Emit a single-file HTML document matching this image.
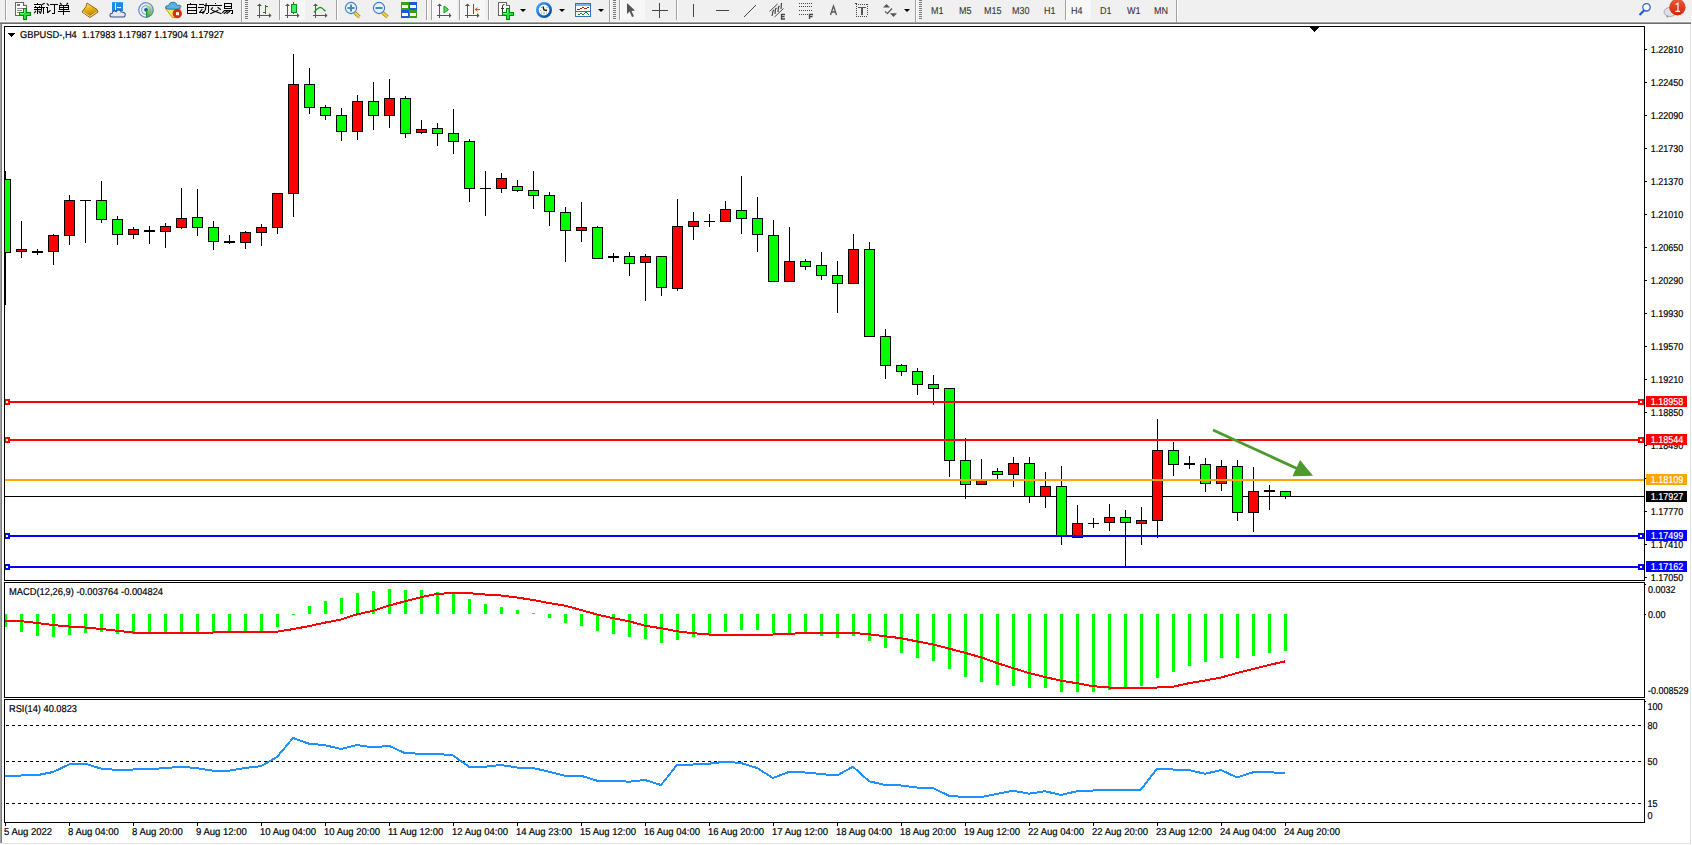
<!DOCTYPE html>
<html><head><meta charset="utf-8"><style>
html,body{margin:0;padding:0;width:1692px;height:845px;overflow:hidden;background:#fff}
svg{display:block;font-family:"Liberation Sans", sans-serif;text-rendering:geometricPrecision}
</style></head><body>
<svg width="1692" height="845" viewBox="0 0 1692 845" shape-rendering="crispEdges">
<rect x="0" y="24" width="1692" height="821" fill="#ffffff"/>
<rect x="0" y="24" width="1" height="819" fill="#a0a0a0"/>
<rect x="1" y="24" width="1" height="819" fill="#808080"/>
<rect x="1690" y="24" width="1" height="820" fill="#e3e3e3"/>
<rect x="0" y="843" width="1691" height="1" fill="#e3e3e3"/>
<defs><clipPath id="cm"><rect x="5" y="27" width="1639" height="553"/></clipPath><clipPath id="cmacd"><rect x="5" y="583" width="1639" height="114"/></clipPath><clipPath id="crsi"><rect x="5" y="700" width="1639" height="122"/></clipPath></defs>
<rect x="4" y="26" width="1641" height="1" fill="#000"/>
<rect x="4" y="580" width="1641" height="1" fill="#000"/>
<rect x="4" y="26" width="1" height="555" fill="#000"/>
<rect x="1644" y="26" width="1" height="555" fill="#000"/>
<rect x="4" y="582" width="1641" height="1" fill="#000"/>
<rect x="4" y="697" width="1641" height="1" fill="#000"/>
<rect x="4" y="582" width="1" height="116" fill="#000"/>
<rect x="1644" y="582" width="1" height="116" fill="#000"/>
<rect x="4" y="699" width="1641" height="1" fill="#000"/>
<rect x="4" y="822" width="1641" height="1" fill="#000"/>
<rect x="4" y="699" width="1" height="124" fill="#000"/>
<rect x="1644" y="699" width="1" height="124" fill="#000"/>
<path d="M1310,27h9v1h-9z M1311,28h7v1h-7z M1312,29h5v1h-5z M1313,30h3v1h-3z M1314,31h1v1h-1z" fill="#000"/>
<g clip-path="url(#cm)">
<rect x="5" y="496" width="1639" height="1" fill="#000"/>
<rect x="5" y="171" width="1" height="134" fill="#000"/>
<rect x="0" y="179" width="11" height="74" fill="#000"/>
<rect x="1" y="180" width="9" height="72" fill="#00ff00"/>
<rect x="21" y="221" width="1" height="37" fill="#000"/>
<rect x="16" y="249" width="11" height="3" fill="#000"/>
<rect x="17" y="250" width="9" height="1" fill="#ff0000"/>
<rect x="37" y="249" width="1" height="6" fill="#000"/>
<rect x="32" y="251" width="11" height="2" fill="#000"/>
<rect x="53" y="234" width="1" height="31" fill="#000"/>
<rect x="48" y="235" width="11" height="17" fill="#000"/>
<rect x="49" y="236" width="9" height="15" fill="#ff0000"/>
<rect x="69" y="195" width="1" height="50" fill="#000"/>
<rect x="64" y="200" width="11" height="36" fill="#000"/>
<rect x="65" y="201" width="9" height="34" fill="#ff0000"/>
<rect x="85" y="200" width="1" height="43" fill="#000"/>
<rect x="80" y="200" width="11" height="1" fill="#000"/>
<rect x="101" y="181" width="1" height="42" fill="#000"/>
<rect x="96" y="200" width="11" height="20" fill="#000"/>
<rect x="97" y="201" width="9" height="18" fill="#00ff00"/>
<rect x="117" y="216" width="1" height="29" fill="#000"/>
<rect x="112" y="219" width="11" height="16" fill="#000"/>
<rect x="113" y="220" width="9" height="14" fill="#00ff00"/>
<rect x="133" y="227" width="1" height="12" fill="#000"/>
<rect x="128" y="229" width="11" height="6" fill="#000"/>
<rect x="129" y="230" width="9" height="4" fill="#ff0000"/>
<rect x="149" y="226" width="1" height="18" fill="#000"/>
<rect x="144" y="230" width="11" height="2" fill="#000"/>
<rect x="165" y="223" width="1" height="25" fill="#000"/>
<rect x="160" y="226" width="11" height="6" fill="#000"/>
<rect x="161" y="227" width="9" height="4" fill="#ff0000"/>
<rect x="181" y="188" width="1" height="41" fill="#000"/>
<rect x="176" y="218" width="11" height="10" fill="#000"/>
<rect x="177" y="219" width="9" height="8" fill="#ff0000"/>
<rect x="197" y="189" width="1" height="47" fill="#000"/>
<rect x="192" y="217" width="11" height="11" fill="#000"/>
<rect x="193" y="218" width="9" height="9" fill="#00ff00"/>
<rect x="213" y="221" width="1" height="29" fill="#000"/>
<rect x="208" y="227" width="11" height="15" fill="#000"/>
<rect x="209" y="228" width="9" height="13" fill="#00ff00"/>
<rect x="229" y="235" width="1" height="9" fill="#000"/>
<rect x="224" y="241" width="11" height="2" fill="#000"/>
<rect x="245" y="231" width="1" height="18" fill="#000"/>
<rect x="240" y="232" width="11" height="11" fill="#000"/>
<rect x="241" y="233" width="9" height="9" fill="#ff0000"/>
<rect x="261" y="224" width="1" height="22" fill="#000"/>
<rect x="256" y="227" width="11" height="6" fill="#000"/>
<rect x="257" y="228" width="9" height="4" fill="#ff0000"/>
<rect x="277" y="193" width="1" height="41" fill="#000"/>
<rect x="272" y="193" width="11" height="35" fill="#000"/>
<rect x="273" y="194" width="9" height="33" fill="#ff0000"/>
<rect x="293" y="54" width="1" height="163" fill="#000"/>
<rect x="288" y="84" width="11" height="110" fill="#000"/>
<rect x="289" y="85" width="9" height="108" fill="#ff0000"/>
<rect x="309" y="68" width="1" height="46" fill="#000"/>
<rect x="304" y="84" width="11" height="24" fill="#000"/>
<rect x="305" y="85" width="9" height="22" fill="#00ff00"/>
<rect x="325" y="105" width="1" height="15" fill="#000"/>
<rect x="320" y="107" width="11" height="9" fill="#000"/>
<rect x="321" y="108" width="9" height="7" fill="#00ff00"/>
<rect x="341" y="108" width="1" height="33" fill="#000"/>
<rect x="336" y="115" width="11" height="17" fill="#000"/>
<rect x="337" y="116" width="9" height="15" fill="#00ff00"/>
<rect x="357" y="95" width="1" height="45" fill="#000"/>
<rect x="352" y="101" width="11" height="31" fill="#000"/>
<rect x="353" y="102" width="9" height="29" fill="#ff0000"/>
<rect x="373" y="82" width="1" height="48" fill="#000"/>
<rect x="368" y="101" width="11" height="15" fill="#000"/>
<rect x="369" y="102" width="9" height="13" fill="#00ff00"/>
<rect x="389" y="79" width="1" height="49" fill="#000"/>
<rect x="384" y="98" width="11" height="18" fill="#000"/>
<rect x="385" y="99" width="9" height="16" fill="#ff0000"/>
<rect x="405" y="96" width="1" height="42" fill="#000"/>
<rect x="400" y="98" width="11" height="36" fill="#000"/>
<rect x="401" y="99" width="9" height="34" fill="#00ff00"/>
<rect x="421" y="120" width="1" height="14" fill="#000"/>
<rect x="416" y="129" width="11" height="4" fill="#000"/>
<rect x="417" y="130" width="9" height="2" fill="#ff0000"/>
<rect x="437" y="123" width="1" height="23" fill="#000"/>
<rect x="432" y="128" width="11" height="6" fill="#000"/>
<rect x="433" y="129" width="9" height="4" fill="#00ff00"/>
<rect x="453" y="109" width="1" height="45" fill="#000"/>
<rect x="448" y="133" width="11" height="9" fill="#000"/>
<rect x="449" y="134" width="9" height="7" fill="#00ff00"/>
<rect x="469" y="139" width="1" height="63" fill="#000"/>
<rect x="464" y="141" width="11" height="48" fill="#000"/>
<rect x="465" y="142" width="9" height="46" fill="#00ff00"/>
<rect x="485" y="171" width="1" height="45" fill="#000"/>
<rect x="480" y="188" width="11" height="1" fill="#000"/>
<rect x="501" y="173" width="1" height="20" fill="#000"/>
<rect x="496" y="178" width="11" height="11" fill="#000"/>
<rect x="497" y="179" width="9" height="9" fill="#ff0000"/>
<rect x="517" y="180" width="1" height="12" fill="#000"/>
<rect x="512" y="186" width="11" height="5" fill="#000"/>
<rect x="513" y="187" width="9" height="3" fill="#00ff00"/>
<rect x="533" y="171" width="1" height="38" fill="#000"/>
<rect x="528" y="190" width="11" height="6" fill="#000"/>
<rect x="529" y="191" width="9" height="4" fill="#00ff00"/>
<rect x="549" y="192" width="1" height="34" fill="#000"/>
<rect x="544" y="195" width="11" height="17" fill="#000"/>
<rect x="545" y="196" width="9" height="15" fill="#00ff00"/>
<rect x="565" y="207" width="1" height="55" fill="#000"/>
<rect x="560" y="212" width="11" height="19" fill="#000"/>
<rect x="561" y="213" width="9" height="17" fill="#00ff00"/>
<rect x="581" y="202" width="1" height="40" fill="#000"/>
<rect x="576" y="227" width="11" height="4" fill="#000"/>
<rect x="577" y="228" width="9" height="2" fill="#ff0000"/>
<rect x="597" y="226" width="1" height="33" fill="#000"/>
<rect x="592" y="227" width="11" height="32" fill="#000"/>
<rect x="593" y="228" width="9" height="30" fill="#00ff00"/>
<rect x="613" y="253" width="1" height="9" fill="#000"/>
<rect x="608" y="256" width="11" height="2" fill="#000"/>
<rect x="629" y="252" width="1" height="24" fill="#000"/>
<rect x="624" y="256" width="11" height="8" fill="#000"/>
<rect x="625" y="257" width="9" height="6" fill="#00ff00"/>
<rect x="645" y="254" width="1" height="47" fill="#000"/>
<rect x="640" y="256" width="11" height="7" fill="#000"/>
<rect x="641" y="257" width="9" height="5" fill="#ff0000"/>
<rect x="661" y="256" width="1" height="40" fill="#000"/>
<rect x="656" y="256" width="11" height="32" fill="#000"/>
<rect x="657" y="257" width="9" height="30" fill="#00ff00"/>
<rect x="677" y="199" width="1" height="92" fill="#000"/>
<rect x="672" y="226" width="11" height="63" fill="#000"/>
<rect x="673" y="227" width="9" height="61" fill="#ff0000"/>
<rect x="693" y="212" width="1" height="28" fill="#000"/>
<rect x="688" y="221" width="11" height="6" fill="#000"/>
<rect x="689" y="222" width="9" height="4" fill="#ff0000"/>
<rect x="709" y="214" width="1" height="13" fill="#000"/>
<rect x="704" y="221" width="11" height="1" fill="#000"/>
<rect x="725" y="201" width="1" height="21" fill="#000"/>
<rect x="720" y="209" width="11" height="13" fill="#000"/>
<rect x="721" y="210" width="9" height="11" fill="#ff0000"/>
<rect x="741" y="176" width="1" height="58" fill="#000"/>
<rect x="736" y="210" width="11" height="9" fill="#000"/>
<rect x="737" y="211" width="9" height="7" fill="#00ff00"/>
<rect x="757" y="197" width="1" height="55" fill="#000"/>
<rect x="752" y="218" width="11" height="17" fill="#000"/>
<rect x="753" y="219" width="9" height="15" fill="#00ff00"/>
<rect x="773" y="220" width="1" height="62" fill="#000"/>
<rect x="768" y="235" width="11" height="47" fill="#000"/>
<rect x="769" y="236" width="9" height="45" fill="#00ff00"/>
<rect x="789" y="227" width="1" height="55" fill="#000"/>
<rect x="784" y="261" width="11" height="21" fill="#000"/>
<rect x="785" y="262" width="9" height="19" fill="#ff0000"/>
<rect x="805" y="259" width="1" height="11" fill="#000"/>
<rect x="800" y="261" width="11" height="6" fill="#000"/>
<rect x="801" y="262" width="9" height="4" fill="#00ff00"/>
<rect x="821" y="252" width="1" height="28" fill="#000"/>
<rect x="816" y="265" width="11" height="11" fill="#000"/>
<rect x="817" y="266" width="9" height="9" fill="#00ff00"/>
<rect x="837" y="261" width="1" height="52" fill="#000"/>
<rect x="832" y="275" width="11" height="9" fill="#000"/>
<rect x="833" y="276" width="9" height="7" fill="#00ff00"/>
<rect x="853" y="234" width="1" height="50" fill="#000"/>
<rect x="848" y="249" width="11" height="35" fill="#000"/>
<rect x="849" y="250" width="9" height="33" fill="#ff0000"/>
<rect x="869" y="242" width="1" height="95" fill="#000"/>
<rect x="864" y="249" width="11" height="88" fill="#000"/>
<rect x="865" y="250" width="9" height="86" fill="#00ff00"/>
<rect x="885" y="329" width="1" height="50" fill="#000"/>
<rect x="880" y="336" width="11" height="30" fill="#000"/>
<rect x="881" y="337" width="9" height="28" fill="#00ff00"/>
<rect x="901" y="364" width="1" height="12" fill="#000"/>
<rect x="896" y="365" width="11" height="7" fill="#000"/>
<rect x="897" y="366" width="9" height="5" fill="#00ff00"/>
<rect x="917" y="368" width="1" height="27" fill="#000"/>
<rect x="912" y="371" width="11" height="14" fill="#000"/>
<rect x="913" y="372" width="9" height="12" fill="#00ff00"/>
<rect x="933" y="375" width="1" height="30" fill="#000"/>
<rect x="928" y="384" width="11" height="5" fill="#000"/>
<rect x="929" y="385" width="9" height="3" fill="#00ff00"/>
<rect x="949" y="388" width="1" height="89" fill="#000"/>
<rect x="944" y="388" width="11" height="73" fill="#000"/>
<rect x="945" y="389" width="9" height="71" fill="#00ff00"/>
<rect x="965" y="438" width="1" height="61" fill="#000"/>
<rect x="960" y="460" width="11" height="25" fill="#000"/>
<rect x="961" y="461" width="9" height="23" fill="#00ff00"/>
<rect x="981" y="459" width="1" height="26" fill="#000"/>
<rect x="976" y="480" width="11" height="5" fill="#000"/>
<rect x="977" y="481" width="9" height="3" fill="#ff0000"/>
<rect x="997" y="468" width="1" height="12" fill="#000"/>
<rect x="992" y="471" width="11" height="4" fill="#000"/>
<rect x="993" y="472" width="9" height="2" fill="#00ff00"/>
<rect x="1013" y="457" width="1" height="30" fill="#000"/>
<rect x="1008" y="463" width="11" height="12" fill="#000"/>
<rect x="1009" y="464" width="9" height="10" fill="#ff0000"/>
<rect x="1029" y="457" width="1" height="46" fill="#000"/>
<rect x="1024" y="463" width="11" height="34" fill="#000"/>
<rect x="1025" y="464" width="9" height="32" fill="#00ff00"/>
<rect x="1045" y="472" width="1" height="36" fill="#000"/>
<rect x="1040" y="486" width="11" height="11" fill="#000"/>
<rect x="1041" y="487" width="9" height="9" fill="#ff0000"/>
<rect x="1061" y="466" width="1" height="79" fill="#000"/>
<rect x="1056" y="486" width="11" height="50" fill="#000"/>
<rect x="1057" y="487" width="9" height="48" fill="#00ff00"/>
<rect x="1077" y="505" width="1" height="33" fill="#000"/>
<rect x="1072" y="523" width="11" height="15" fill="#000"/>
<rect x="1073" y="524" width="9" height="13" fill="#ff0000"/>
<rect x="1093" y="518" width="1" height="10" fill="#000"/>
<rect x="1088" y="523" width="11" height="1" fill="#000"/>
<rect x="1109" y="504" width="1" height="27" fill="#000"/>
<rect x="1104" y="517" width="11" height="6" fill="#000"/>
<rect x="1105" y="518" width="9" height="4" fill="#ff0000"/>
<rect x="1125" y="510" width="1" height="56" fill="#000"/>
<rect x="1120" y="517" width="11" height="6" fill="#000"/>
<rect x="1121" y="518" width="9" height="4" fill="#00ff00"/>
<rect x="1141" y="507" width="1" height="38" fill="#000"/>
<rect x="1136" y="520" width="11" height="4" fill="#000"/>
<rect x="1137" y="521" width="9" height="2" fill="#ff0000"/>
<rect x="1157" y="419" width="1" height="119" fill="#000"/>
<rect x="1152" y="450" width="11" height="71" fill="#000"/>
<rect x="1153" y="451" width="9" height="69" fill="#ff0000"/>
<rect x="1173" y="442" width="1" height="34" fill="#000"/>
<rect x="1168" y="450" width="11" height="15" fill="#000"/>
<rect x="1169" y="451" width="9" height="13" fill="#00ff00"/>
<rect x="1189" y="456" width="1" height="13" fill="#000"/>
<rect x="1184" y="463" width="11" height="2" fill="#000"/>
<rect x="1205" y="458" width="1" height="34" fill="#000"/>
<rect x="1200" y="464" width="11" height="20" fill="#000"/>
<rect x="1201" y="465" width="9" height="18" fill="#00ff00"/>
<rect x="1221" y="460" width="1" height="31" fill="#000"/>
<rect x="1216" y="466" width="11" height="18" fill="#000"/>
<rect x="1217" y="467" width="9" height="16" fill="#ff0000"/>
<rect x="1237" y="460" width="1" height="61" fill="#000"/>
<rect x="1232" y="466" width="11" height="47" fill="#000"/>
<rect x="1233" y="467" width="9" height="45" fill="#00ff00"/>
<rect x="1253" y="467" width="1" height="65" fill="#000"/>
<rect x="1248" y="491" width="11" height="22" fill="#000"/>
<rect x="1249" y="492" width="9" height="20" fill="#ff0000"/>
<rect x="1269" y="485" width="1" height="25" fill="#000"/>
<rect x="1264" y="490" width="11" height="2" fill="#000"/>
<rect x="1285" y="491" width="1" height="8" fill="#000"/>
<rect x="1280" y="491" width="11" height="6" fill="#000"/>
<rect x="1281" y="492" width="9" height="4" fill="#00ff00"/>
<rect x="5" y="401" width="1639" height="2" fill="#ff0000"/>
<rect x="4" y="399" width="6" height="6" fill="#ff0000"/>
<rect x="6" y="401" width="2" height="2" fill="#fff"/>
<rect x="1638" y="399" width="6" height="6" fill="#ff0000"/>
<rect x="1640" y="401" width="2" height="2" fill="#fff"/>
<rect x="5" y="439" width="1639" height="2" fill="#ff0000"/>
<rect x="4" y="437" width="6" height="6" fill="#ff0000"/>
<rect x="6" y="439" width="2" height="2" fill="#fff"/>
<rect x="1638" y="437" width="6" height="6" fill="#ff0000"/>
<rect x="1640" y="439" width="2" height="2" fill="#fff"/>
<rect x="5" y="479" width="1639" height="2" fill="#ffa500"/>
<rect x="5" y="535" width="1639" height="2" fill="#0000ff"/>
<rect x="4" y="533" width="6" height="6" fill="#0000ff"/>
<rect x="6" y="535" width="2" height="2" fill="#fff"/>
<rect x="1638" y="533" width="6" height="6" fill="#0000ff"/>
<rect x="1640" y="535" width="2" height="2" fill="#fff"/>
<rect x="5" y="566" width="1639" height="2" fill="#0000ff"/>
<rect x="4" y="564" width="6" height="6" fill="#0000ff"/>
<rect x="6" y="566" width="2" height="2" fill="#fff"/>
<rect x="1638" y="564" width="6" height="6" fill="#0000ff"/>
<rect x="1640" y="566" width="2" height="2" fill="#fff"/>
<line x1="1213" y1="430" x2="1298" y2="469" stroke="#4d9a2c" stroke-width="2.8" shape-rendering="geometricPrecision"/>
<polygon points="1300,460 1292.5,476.2 1313,475.8" fill="#4d9a2c" shape-rendering="geometricPrecision"/>
</g>
<g clip-path="url(#cmacd)">
<rect x="4" y="614" width="3" height="13" fill="#00ff00"/>
<rect x="20" y="614" width="3" height="18" fill="#00ff00"/>
<rect x="36" y="614" width="3" height="22" fill="#00ff00"/>
<rect x="52" y="614" width="3" height="23" fill="#00ff00"/>
<rect x="68" y="614" width="3" height="21" fill="#00ff00"/>
<rect x="84" y="614" width="3" height="19" fill="#00ff00"/>
<rect x="100" y="614" width="3" height="18" fill="#00ff00"/>
<rect x="116" y="614" width="3" height="20" fill="#00ff00"/>
<rect x="132" y="614" width="3" height="20" fill="#00ff00"/>
<rect x="148" y="614" width="3" height="20" fill="#00ff00"/>
<rect x="164" y="614" width="3" height="20" fill="#00ff00"/>
<rect x="180" y="614" width="3" height="18" fill="#00ff00"/>
<rect x="196" y="614" width="3" height="18" fill="#00ff00"/>
<rect x="212" y="614" width="3" height="18" fill="#00ff00"/>
<rect x="228" y="614" width="3" height="17" fill="#00ff00"/>
<rect x="244" y="614" width="3" height="17" fill="#00ff00"/>
<rect x="260" y="614" width="3" height="17" fill="#00ff00"/>
<rect x="276" y="614" width="3" height="13" fill="#00ff00"/>
<rect x="292" y="614" width="3" height="1" fill="#00ff00"/>
<rect x="308" y="606" width="3" height="8" fill="#00ff00"/>
<rect x="324" y="601" width="3" height="13" fill="#00ff00"/>
<rect x="340" y="598" width="3" height="16" fill="#00ff00"/>
<rect x="356" y="593" width="3" height="21" fill="#00ff00"/>
<rect x="372" y="591" width="3" height="23" fill="#00ff00"/>
<rect x="388" y="589" width="3" height="25" fill="#00ff00"/>
<rect x="404" y="590" width="3" height="24" fill="#00ff00"/>
<rect x="420" y="590" width="3" height="24" fill="#00ff00"/>
<rect x="436" y="592" width="3" height="22" fill="#00ff00"/>
<rect x="452" y="594" width="3" height="20" fill="#00ff00"/>
<rect x="468" y="599" width="3" height="15" fill="#00ff00"/>
<rect x="484" y="604" width="3" height="10" fill="#00ff00"/>
<rect x="500" y="607" width="3" height="7" fill="#00ff00"/>
<rect x="516" y="610" width="3" height="4" fill="#00ff00"/>
<rect x="532" y="613" width="3" height="1" fill="#00ff00"/>
<rect x="548" y="614" width="3" height="4" fill="#00ff00"/>
<rect x="564" y="614" width="3" height="9" fill="#00ff00"/>
<rect x="580" y="614" width="3" height="12" fill="#00ff00"/>
<rect x="596" y="614" width="3" height="17" fill="#00ff00"/>
<rect x="612" y="614" width="3" height="20" fill="#00ff00"/>
<rect x="628" y="614" width="3" height="23" fill="#00ff00"/>
<rect x="644" y="614" width="3" height="25" fill="#00ff00"/>
<rect x="660" y="614" width="3" height="29" fill="#00ff00"/>
<rect x="676" y="614" width="3" height="26" fill="#00ff00"/>
<rect x="692" y="614" width="3" height="23" fill="#00ff00"/>
<rect x="708" y="614" width="3" height="20" fill="#00ff00"/>
<rect x="724" y="614" width="3" height="18" fill="#00ff00"/>
<rect x="740" y="614" width="3" height="16" fill="#00ff00"/>
<rect x="756" y="614" width="3" height="16" fill="#00ff00"/>
<rect x="772" y="614" width="3" height="19" fill="#00ff00"/>
<rect x="788" y="614" width="3" height="19" fill="#00ff00"/>
<rect x="804" y="614" width="3" height="19" fill="#00ff00"/>
<rect x="820" y="614" width="3" height="22" fill="#00ff00"/>
<rect x="836" y="614" width="3" height="24" fill="#00ff00"/>
<rect x="852" y="614" width="3" height="22" fill="#00ff00"/>
<rect x="868" y="614" width="3" height="27" fill="#00ff00"/>
<rect x="884" y="614" width="3" height="34" fill="#00ff00"/>
<rect x="900" y="614" width="3" height="39" fill="#00ff00"/>
<rect x="916" y="614" width="3" height="44" fill="#00ff00"/>
<rect x="932" y="614" width="3" height="47" fill="#00ff00"/>
<rect x="948" y="614" width="3" height="55" fill="#00ff00"/>
<rect x="964" y="614" width="3" height="63" fill="#00ff00"/>
<rect x="980" y="614" width="3" height="68" fill="#00ff00"/>
<rect x="996" y="614" width="3" height="71" fill="#00ff00"/>
<rect x="1012" y="614" width="3" height="72" fill="#00ff00"/>
<rect x="1028" y="614" width="3" height="74" fill="#00ff00"/>
<rect x="1044" y="614" width="3" height="74" fill="#00ff00"/>
<rect x="1060" y="614" width="3" height="78" fill="#00ff00"/>
<rect x="1076" y="614" width="3" height="78" fill="#00ff00"/>
<rect x="1092" y="614" width="3" height="78" fill="#00ff00"/>
<rect x="1108" y="614" width="3" height="76" fill="#00ff00"/>
<rect x="1124" y="614" width="3" height="74" fill="#00ff00"/>
<rect x="1140" y="614" width="3" height="72" fill="#00ff00"/>
<rect x="1156" y="614" width="3" height="64" fill="#00ff00"/>
<rect x="1172" y="614" width="3" height="58" fill="#00ff00"/>
<rect x="1188" y="614" width="3" height="52" fill="#00ff00"/>
<rect x="1204" y="614" width="3" height="48" fill="#00ff00"/>
<rect x="1220" y="614" width="3" height="44" fill="#00ff00"/>
<rect x="1236" y="614" width="3" height="44" fill="#00ff00"/>
<rect x="1252" y="614" width="3" height="42" fill="#00ff00"/>
<rect x="1268" y="614" width="3" height="39" fill="#00ff00"/>
<rect x="1284" y="614" width="3" height="37" fill="#00ff00"/>
<polyline points="5,620.5 21,621.2 37,623.0 53,625.0 69,626.5 85,627.5 101,629.0 117,630.7 133,632.5 149,633.2 165,633.2 181,633.0 197,632.5 213,632.5 229,632.0 245,631.7 261,631.7 277,631.7 293,629.1 309,626.1 325,622.6 341,619.6 357,614.3 373,610.8 389,605.5 405,601.3 421,597.2 437,593.9 453,593 469,593.2 485,594.5 501,595.5 517,597.5 533,600.0 549,603.0 565,605.7 581,610.0 597,614.5 613,618.2 629,621.2 645,625.7 661,628.2 677,631.2 693,633.2 709,634.5 725,634.5 741,634.5 757,634.5 773,634.5 789,633.7 805,633.2 821,632.5 837,632.5 853,633.0 869,634.2 885,636.2 901,638.2 917,641.4 933,644.5 949,648.6 965,652.8 981,657.3 997,663.0 1013,668.2 1029,673.0 1045,677.0 1061,680.7 1077,683.2 1093,686.2 1109,687.5 1125,687.5 1141,687.5 1157,687.5 1173,686.7 1189,683.2 1205,680.5 1221,677.5 1237,673.0 1253,669.0 1269,665.0 1285,661.4" fill="none" stroke="#ff0000" stroke-width="2"/>
</g>
<g clip-path="url(#crsi)">
<line x1="6" y1="725.5" x2="1644" y2="725.5" stroke="#000" stroke-width="1" stroke-dasharray="3,3"/>
<line x1="6" y1="761.5" x2="1644" y2="761.5" stroke="#000" stroke-width="1" stroke-dasharray="3,3"/>
<line x1="6" y1="803.5" x2="1644" y2="803.5" stroke="#000" stroke-width="1" stroke-dasharray="3,3"/>
<polyline points="5,776.5 21,775.5 37,775.2 53,772.0 69,764.5 85,763.7 101,768.5 117,770.0 133,769.5 149,769.0 165,768.2 181,766.7 197,768.2 213,770.7 229,770.7 245,768.0 261,766.2 277,757.0 293,738.0 309,743.7 325,745.2 341,749.0 357,745.0 373,747.5 389,745.7 405,753.2 421,753.7 437,753.7 453,755.5 469,766.7 485,766.7 501,765.0 517,767.5 533,768.0 549,771.7 565,775.7 581,775.7 597,780.7 613,780.7 629,781.7 645,780.0 661,785.0 677,765.0 693,764.5 709,763.7 725,761.7 741,763.0 757,768.0 773,778.0 789,772.0 805,772.5 821,774.0 837,775.5 853,766.7 869,781.2 885,785.0 901,785.5 917,787.5 933,788.0 949,795.8 965,797 981,797 997,794 1013,790.7 1029,793.7 1045,791.2 1061,795 1077,791.2 1093,790.5 1109,789.5 1125,789.5 1141,789.5 1157,768.7 1173,769.5 1189,770.0 1205,773.8 1221,770.0 1237,777.5 1253,772.3 1269,772.3 1285,773.0" fill="none" stroke="#1e90ff" stroke-width="2"/>
</g>
<polygon points="8,33 15,33 11.5,37" fill="#000"/>
<text transform="translate(20,38) scale(0.929,1)" font-size="10" fill="#000" stroke="#000" stroke-width="0.2" text-anchor="start" >GBPUSD-,H4&#160;&#160;1.17983 1.17987 1.17904 1.17927</text>
<text transform="translate(9,595) scale(0.933,1)" font-size="10" fill="#000" stroke="#000" stroke-width="0.2" text-anchor="start" >MACD(12,26,9) -0.003764 -0.004824</text>
<text transform="translate(9,712) scale(0.926,1)" font-size="10" fill="#000" stroke="#000" stroke-width="0.2" text-anchor="start" >RSI(14) 40.0823</text>
<rect x="1645" y="49" width="2" height="1" fill="#000"/>
<text transform="translate(1650.8,52.5) scale(0.898,1)" font-size="10" fill="#000" stroke="#000" stroke-width="0.2" text-anchor="start" >1.22810</text>
<rect x="1645" y="82" width="2" height="1" fill="#000"/>
<text transform="translate(1650.8,85.5) scale(0.898,1)" font-size="10" fill="#000" stroke="#000" stroke-width="0.2" text-anchor="start" >1.22450</text>
<rect x="1645" y="115" width="2" height="1" fill="#000"/>
<text transform="translate(1650.8,118.5) scale(0.898,1)" font-size="10" fill="#000" stroke="#000" stroke-width="0.2" text-anchor="start" >1.22090</text>
<rect x="1645" y="148" width="2" height="1" fill="#000"/>
<text transform="translate(1650.8,151.5) scale(0.898,1)" font-size="10" fill="#000" stroke="#000" stroke-width="0.2" text-anchor="start" >1.21730</text>
<rect x="1645" y="181" width="2" height="1" fill="#000"/>
<text transform="translate(1650.8,184.5) scale(0.898,1)" font-size="10" fill="#000" stroke="#000" stroke-width="0.2" text-anchor="start" >1.21370</text>
<rect x="1645" y="214" width="2" height="1" fill="#000"/>
<text transform="translate(1650.8,217.5) scale(0.898,1)" font-size="10" fill="#000" stroke="#000" stroke-width="0.2" text-anchor="start" >1.21010</text>
<rect x="1645" y="247" width="2" height="1" fill="#000"/>
<text transform="translate(1650.8,250.5) scale(0.898,1)" font-size="10" fill="#000" stroke="#000" stroke-width="0.2" text-anchor="start" >1.20650</text>
<rect x="1645" y="280" width="2" height="1" fill="#000"/>
<text transform="translate(1650.8,283.5) scale(0.898,1)" font-size="10" fill="#000" stroke="#000" stroke-width="0.2" text-anchor="start" >1.20290</text>
<rect x="1645" y="313" width="2" height="1" fill="#000"/>
<text transform="translate(1650.8,316.5) scale(0.898,1)" font-size="10" fill="#000" stroke="#000" stroke-width="0.2" text-anchor="start" >1.19930</text>
<rect x="1645" y="346" width="2" height="1" fill="#000"/>
<text transform="translate(1650.8,349.5) scale(0.898,1)" font-size="10" fill="#000" stroke="#000" stroke-width="0.2" text-anchor="start" >1.19570</text>
<rect x="1645" y="379" width="2" height="1" fill="#000"/>
<text transform="translate(1650.8,382.5) scale(0.898,1)" font-size="10" fill="#000" stroke="#000" stroke-width="0.2" text-anchor="start" >1.19210</text>
<rect x="1645" y="412" width="2" height="1" fill="#000"/>
<text transform="translate(1650.8,415.5) scale(0.898,1)" font-size="10" fill="#000" stroke="#000" stroke-width="0.2" text-anchor="start" >1.18850</text>
<rect x="1645" y="445" width="2" height="1" fill="#000"/>
<text transform="translate(1650.8,448.5) scale(0.898,1)" font-size="10" fill="#000" stroke="#000" stroke-width="0.2" text-anchor="start" >1.18490</text>
<rect x="1645" y="478" width="2" height="1" fill="#000"/>
<text transform="translate(1650.8,481.5) scale(0.898,1)" font-size="10" fill="#000" stroke="#000" stroke-width="0.2" text-anchor="start" >1.18130</text>
<rect x="1645" y="511" width="2" height="1" fill="#000"/>
<text transform="translate(1650.8,514.5) scale(0.898,1)" font-size="10" fill="#000" stroke="#000" stroke-width="0.2" text-anchor="start" >1.17770</text>
<rect x="1645" y="544" width="2" height="1" fill="#000"/>
<text transform="translate(1650.8,547.5) scale(0.898,1)" font-size="10" fill="#000" stroke="#000" stroke-width="0.2" text-anchor="start" >1.17410</text>
<rect x="1645" y="577" width="2" height="1" fill="#000"/>
<text transform="translate(1650.8,580.5) scale(0.898,1)" font-size="10" fill="#000" stroke="#000" stroke-width="0.2" text-anchor="start" >1.17050</text>
<rect x="1645" y="584" width="1" height="1" fill="#000"/>
<text transform="translate(1648,593) scale(0.898,1)" font-size="10" fill="#000" stroke="#000" stroke-width="0.2" text-anchor="start" >0.0032</text>
<rect x="1645" y="614" width="1" height="1" fill="#000"/>
<text transform="translate(1648,617.5) scale(0.898,1)" font-size="10" fill="#000" stroke="#000" stroke-width="0.2" text-anchor="start" >0.00</text>
<rect x="1645" y="701" width="1" height="1" fill="#000"/>
<text transform="translate(1648,694) scale(0.898,1)" font-size="10" fill="#000" stroke="#000" stroke-width="0.2" text-anchor="start" >-0.008529</text>
<text transform="translate(1647.5,709.5) scale(0.898,1)" font-size="10" fill="#000" stroke="#000" stroke-width="0.2" text-anchor="start" >100</text>
<text transform="translate(1647.5,728.5) scale(0.898,1)" font-size="10" fill="#000" stroke="#000" stroke-width="0.2" text-anchor="start" >80</text>
<text transform="translate(1647.5,764.5) scale(0.898,1)" font-size="10" fill="#000" stroke="#000" stroke-width="0.2" text-anchor="start" >50</text>
<text transform="translate(1647.5,806.5) scale(0.898,1)" font-size="10" fill="#000" stroke="#000" stroke-width="0.2" text-anchor="start" >15</text>
<text transform="translate(1647.5,818.5) scale(0.898,1)" font-size="10" fill="#000" stroke="#000" stroke-width="0.2" text-anchor="start" >0</text>
<rect x="1646" y="396" width="41" height="11" fill="#ff0000"/>
<text transform="translate(1650.8,405) scale(0.898,1)" font-size="10" fill="#fff" stroke="#fff" stroke-width="0.2" text-anchor="start" >1.18958</text>
<rect x="1646" y="434" width="41" height="11" fill="#ff0000"/>
<text transform="translate(1650.8,443) scale(0.898,1)" font-size="10" fill="#fff" stroke="#fff" stroke-width="0.2" text-anchor="start" >1.18544</text>
<rect x="1646" y="474" width="41" height="11" fill="#ffa500"/>
<text transform="translate(1650.8,483) scale(0.898,1)" font-size="10" fill="#fff" stroke="#fff" stroke-width="0.2" text-anchor="start" >1.18109</text>
<rect x="1646" y="491" width="41" height="11" fill="#000000"/>
<text transform="translate(1650.8,500) scale(0.898,1)" font-size="10" fill="#fff" stroke="#fff" stroke-width="0.2" text-anchor="start" >1.17927</text>
<rect x="1646" y="530" width="41" height="11" fill="#0000ff"/>
<text transform="translate(1650.8,539) scale(0.898,1)" font-size="10" fill="#fff" stroke="#fff" stroke-width="0.2" text-anchor="start" >1.17499</text>
<rect x="1646" y="561" width="41" height="11" fill="#0000ff"/>
<text transform="translate(1650.8,570) scale(0.898,1)" font-size="10" fill="#fff" stroke="#fff" stroke-width="0.2" text-anchor="start" >1.17162</text>
<rect x="5" y="823" width="1" height="3" fill="#000"/>
<text transform="translate(4,835) scale(0.95,1)" font-size="10" fill="#000" stroke="#000" stroke-width="0.2" text-anchor="start" >5 Aug 2022</text>
<rect x="69" y="823" width="1" height="3" fill="#000"/>
<text transform="translate(68,835) scale(0.95,1)" font-size="10" fill="#000" stroke="#000" stroke-width="0.2" text-anchor="start" >8 Aug 04:00</text>
<rect x="133" y="823" width="1" height="3" fill="#000"/>
<text transform="translate(132,835) scale(0.95,1)" font-size="10" fill="#000" stroke="#000" stroke-width="0.2" text-anchor="start" >8 Aug 20:00</text>
<rect x="197" y="823" width="1" height="3" fill="#000"/>
<text transform="translate(196,835) scale(0.95,1)" font-size="10" fill="#000" stroke="#000" stroke-width="0.2" text-anchor="start" >9 Aug 12:00</text>
<rect x="261" y="823" width="1" height="3" fill="#000"/>
<text transform="translate(260,835) scale(0.95,1)" font-size="10" fill="#000" stroke="#000" stroke-width="0.2" text-anchor="start" >10 Aug 04:00</text>
<rect x="325" y="823" width="1" height="3" fill="#000"/>
<text transform="translate(324,835) scale(0.95,1)" font-size="10" fill="#000" stroke="#000" stroke-width="0.2" text-anchor="start" >10 Aug 20:00</text>
<rect x="389" y="823" width="1" height="3" fill="#000"/>
<text transform="translate(388,835) scale(0.95,1)" font-size="10" fill="#000" stroke="#000" stroke-width="0.2" text-anchor="start" >11 Aug 12:00</text>
<rect x="453" y="823" width="1" height="3" fill="#000"/>
<text transform="translate(452,835) scale(0.95,1)" font-size="10" fill="#000" stroke="#000" stroke-width="0.2" text-anchor="start" >12 Aug 04:00</text>
<rect x="517" y="823" width="1" height="3" fill="#000"/>
<text transform="translate(516,835) scale(0.95,1)" font-size="10" fill="#000" stroke="#000" stroke-width="0.2" text-anchor="start" >14 Aug 23:00</text>
<rect x="581" y="823" width="1" height="3" fill="#000"/>
<text transform="translate(580,835) scale(0.95,1)" font-size="10" fill="#000" stroke="#000" stroke-width="0.2" text-anchor="start" >15 Aug 12:00</text>
<rect x="645" y="823" width="1" height="3" fill="#000"/>
<text transform="translate(644,835) scale(0.95,1)" font-size="10" fill="#000" stroke="#000" stroke-width="0.2" text-anchor="start" >16 Aug 04:00</text>
<rect x="709" y="823" width="1" height="3" fill="#000"/>
<text transform="translate(708,835) scale(0.95,1)" font-size="10" fill="#000" stroke="#000" stroke-width="0.2" text-anchor="start" >16 Aug 20:00</text>
<rect x="773" y="823" width="1" height="3" fill="#000"/>
<text transform="translate(772,835) scale(0.95,1)" font-size="10" fill="#000" stroke="#000" stroke-width="0.2" text-anchor="start" >17 Aug 12:00</text>
<rect x="837" y="823" width="1" height="3" fill="#000"/>
<text transform="translate(836,835) scale(0.95,1)" font-size="10" fill="#000" stroke="#000" stroke-width="0.2" text-anchor="start" >18 Aug 04:00</text>
<rect x="901" y="823" width="1" height="3" fill="#000"/>
<text transform="translate(900,835) scale(0.95,1)" font-size="10" fill="#000" stroke="#000" stroke-width="0.2" text-anchor="start" >18 Aug 20:00</text>
<rect x="965" y="823" width="1" height="3" fill="#000"/>
<text transform="translate(964,835) scale(0.95,1)" font-size="10" fill="#000" stroke="#000" stroke-width="0.2" text-anchor="start" >19 Aug 12:00</text>
<rect x="1029" y="823" width="1" height="3" fill="#000"/>
<text transform="translate(1028,835) scale(0.95,1)" font-size="10" fill="#000" stroke="#000" stroke-width="0.2" text-anchor="start" >22 Aug 04:00</text>
<rect x="1093" y="823" width="1" height="3" fill="#000"/>
<text transform="translate(1092,835) scale(0.95,1)" font-size="10" fill="#000" stroke="#000" stroke-width="0.2" text-anchor="start" >22 Aug 20:00</text>
<rect x="1157" y="823" width="1" height="3" fill="#000"/>
<text transform="translate(1156,835) scale(0.95,1)" font-size="10" fill="#000" stroke="#000" stroke-width="0.2" text-anchor="start" >23 Aug 12:00</text>
<rect x="1221" y="823" width="1" height="3" fill="#000"/>
<text transform="translate(1220,835) scale(0.95,1)" font-size="10" fill="#000" stroke="#000" stroke-width="0.2" text-anchor="start" >24 Aug 04:00</text>
<rect x="1285" y="823" width="1" height="3" fill="#000"/>
<text transform="translate(1284,835) scale(0.95,1)" font-size="10" fill="#000" stroke="#000" stroke-width="0.2" text-anchor="start" >24 Aug 20:00</text>
<rect x="0" y="0" width="1692" height="21" fill="#f0f0f0"/>
<rect x="0" y="21" width="1692" height="1" fill="#f8f8f8"/>
<rect x="0" y="22" width="1691" height="1" fill="#a0a0a0"/>
<rect x="0" y="23" width="1691" height="1" fill="#6e6e6e"/>
<rect x="5" y="0" width="1" height="20" fill="#a0a0a0"/><rect x="6" y="0" width="1" height="20" fill="#ffffff"/>
<path d="M15.5,2.5 h8 l3,3 v10 h-11 z" fill="#fff" stroke="#666" stroke-width="1"/>
<path d="M23.5,2.5 v3 h3" fill="#ddd" stroke="#666" stroke-width="1"/>
<rect x="17" y="4" width="3" height="2" fill="#777"/>
<rect x="17" y="8" width="6" height="1" fill="#888"/>
<rect x="17" y="10" width="5" height="1" fill="#888"/>
<rect x="17" y="12" width="3" height="1" fill="#888"/>
<path d="M23.5,8.5 h3 v4 h4 v3 h-4 v4 h-3 v-4 h-4 v-3 h4 z" fill="#22e040" stroke="#008a00" stroke-width="1" shape-rendering="crispEdges"/>
<rect x="20" y="13" width="4" height="1" fill="#7af08a"/><rect x="24" y="9" width="1" height="4" fill="#7af08a"/>
<rect x="37" y="3" width="1" height="1" fill="#000"/>
<rect x="34" y="4" width="7" height="1" fill="#000"/>
<rect x="35" y="6" width="1" height="1" fill="#000"/>
<rect x="39" y="6" width="1" height="1" fill="#000"/>
<rect x="34" y="7" width="7" height="1" fill="#000"/>
<rect x="34" y="9" width="7" height="1" fill="#000"/>
<rect x="37" y="7" width="1" height="7" fill="#000"/>
<line x1="35.8" y1="10.8" x2="34.3" y2="13.3" stroke="#000" stroke-width="1.1" shape-rendering="geometricPrecision"/>
<line x1="38.6" y1="10.8" x2="40.2" y2="12.8" stroke="#000" stroke-width="1.1" shape-rendering="geometricPrecision"/>
<line x1="44.8" y1="3.2" x2="41.5" y2="4.8" stroke="#000" stroke-width="1.1" shape-rendering="geometricPrecision"/>
<rect x="41" y="5" width="1" height="6" fill="#000"/>
<line x1="41.5" y1="10.5" x2="40.2" y2="13.8" stroke="#000" stroke-width="1.1" shape-rendering="geometricPrecision"/>
<rect x="41" y="7" width="4" height="1" fill="#000"/>
<rect x="43" y="7" width="1" height="7" fill="#000"/>
<line x1="46.8" y1="3.4" x2="49" y2="5.6" stroke="#000" stroke-width="1.1" shape-rendering="geometricPrecision"/>
<rect x="46" y="7" width="2" height="1" fill="#000"/>
<rect x="47" y="7" width="1" height="6" fill="#000"/>
<line x1="47.5" y1="12.8" x2="50.6" y2="10.3" stroke="#000" stroke-width="1.1" shape-rendering="geometricPrecision"/>
<rect x="50" y="4" width="8" height="1" fill="#000"/>
<rect x="54" y="4" width="1" height="10" fill="#000"/>
<rect x="52" y="13" width="2" height="1" fill="#000"/>
<line x1="60" y1="3" x2="61.6" y2="4.7" stroke="#000" stroke-width="1.1" shape-rendering="geometricPrecision"/>
<line x1="68" y1="3" x2="66.4" y2="4.7" stroke="#000" stroke-width="1.1" shape-rendering="geometricPrecision"/>
<rect x="59" y="5" width="10" height="1" fill="#000"/>
<rect x="59" y="5" width="1" height="5" fill="#000"/>
<rect x="68" y="5" width="1" height="5" fill="#000"/>
<rect x="59" y="7" width="10" height="1" fill="#000"/>
<rect x="59" y="9" width="10" height="1" fill="#000"/>
<rect x="63" y="5" width="1" height="10" fill="#000"/>
<rect x="58" y="11" width="12" height="1" fill="#000"/>
<rect x="190" y="3" width="1" height="1" fill="#000"/>
<rect x="187" y="4" width="1" height="10" fill="#000"/>
<rect x="196" y="4" width="1" height="10" fill="#000"/>
<rect x="187" y="4" width="10" height="1" fill="#000"/>
<rect x="187" y="7" width="10" height="1" fill="#000"/>
<rect x="187" y="10" width="10" height="1" fill="#000"/>
<rect x="187" y="13" width="10" height="1" fill="#000"/>
<rect x="199" y="4" width="5" height="1" fill="#000"/>
<rect x="198" y="7" width="6" height="1" fill="#000"/>
<line x1="202.3" y1="9" x2="199.5" y2="12.6" stroke="#000" stroke-width="1.1" shape-rendering="geometricPrecision"/>
<rect x="199" y="12" width="5" height="1" fill="#000"/>
<line x1="202.8" y1="11.2" x2="204" y2="12.8" stroke="#000" stroke-width="1.1" shape-rendering="geometricPrecision"/>
<rect x="204" y="5" width="6" height="1" fill="#000"/>
<rect x="208" y="5" width="1" height="8" fill="#000"/>
<rect x="206" y="13" width="2" height="1" fill="#000"/>
<line x1="206.3" y1="3" x2="205.3" y2="10" stroke="#000" stroke-width="1.1" shape-rendering="geometricPrecision"/>
<line x1="205.3" y1="10" x2="202.5" y2="13.8" stroke="#000" stroke-width="1.1" shape-rendering="geometricPrecision"/>
<rect x="215" y="3" width="1" height="1" fill="#000"/>
<rect x="210" y="5" width="12" height="1" fill="#000"/>
<line x1="212.8" y1="7.3" x2="210.8" y2="9.8" stroke="#000" stroke-width="1.1" shape-rendering="geometricPrecision"/>
<line x1="217.6" y1="7.3" x2="220.8" y2="9.8" stroke="#000" stroke-width="1.1" shape-rendering="geometricPrecision"/>
<line x1="212" y1="10.2" x2="221.5" y2="13.8" stroke="#000" stroke-width="1.1" shape-rendering="geometricPrecision"/>
<line x1="218.3" y1="10.2" x2="210.2" y2="13.8" stroke="#000" stroke-width="1.1" shape-rendering="geometricPrecision"/>
<rect x="224" y="3" width="1" height="6" fill="#000"/>
<rect x="231" y="3" width="1" height="6" fill="#000"/>
<rect x="224" y="3" width="8" height="1" fill="#000"/>
<rect x="224" y="6" width="8" height="1" fill="#000"/>
<rect x="224" y="8" width="8" height="1" fill="#000"/>
<rect x="224" y="10" width="9" height="1" fill="#000"/>
<rect x="232" y="10" width="1" height="4" fill="#000"/>
<rect x="231" y="13" width="1" height="1" fill="#000"/>
<line x1="224.5" y1="10.3" x2="222.3" y2="13" stroke="#000" stroke-width="1.1" shape-rendering="geometricPrecision"/>
<line x1="227.6" y1="10.8" x2="223.8" y2="13.8" stroke="#000" stroke-width="1.1" shape-rendering="geometricPrecision"/>
<line x1="230.3" y1="10.8" x2="226.6" y2="13.8" stroke="#000" stroke-width="1.1" shape-rendering="geometricPrecision"/>
<defs><linearGradient id="gbook" x1="0" y1="0" x2="0.3" y2="1"><stop offset="0" stop-color="#fff6a0"/><stop offset="0.5" stop-color="#e8b418"/><stop offset="1" stop-color="#b87808"/></linearGradient><radialGradient id="grad" cx="0.7" cy="0.4" r="0.7"><stop offset="0" stop-color="#e8f4e0"/><stop offset="1" stop-color="#60b060"/></radialGradient></defs>
<polygon points="87,3 97,9.5 98,12 90,17.5 82,12 86,6.5" fill="url(#gbook)" stroke="#9a5e10" stroke-width="1" shape-rendering="geometricPrecision"/>
<polyline points="83,12 90,16.5 97,11.5" fill="none" stroke="#f0d890" stroke-width="1" shape-rendering="geometricPrecision"/>
<rect x="112" y="2" width="11" height="9" fill="#1a8ae6"/><rect x="112" y="2" width="11" height="1" fill="#3aa0f0"/><rect x="115" y="3" width="1" height="7" fill="#d8f0ff"/><rect x="117" y="7" width="4" height="1" fill="#fff"/>
<path d="M111.5,17 C109.3,17 109.5,13.3 112.2,13.3 C112.2,11 115,10.3 116.2,11.6 C117.2,9.3 120.8,9.5 121.2,12 C123.8,11.6 126,13.5 125,15.8 C124.8,17 124,17 123,17 Z" fill="#e4e8f2" stroke="#34508a" stroke-width="1.1" shape-rendering="geometricPrecision"/>
<defs><linearGradient id="grg" x1="0" y1="0" x2="0" y2="1"><stop offset="0" stop-color="#eef4ea"/><stop offset="1" stop-color="#2aa02a"/></linearGradient></defs>
<g shape-rendering="geometricPrecision" fill="none"><path d="M146,2.5 A7.5,7.5 0 0 1 146,17.5 Z" fill="url(#grg)" stroke="none" opacity="0.9"/><path d="M146,2.7 A7.3,7.3 0 0 0 146,17.3" stroke="#5a86d8" stroke-width="1.2"/><path d="M146,2.7 A7.3,7.3 0 0 1 146,17.3" stroke="#4a7a90" stroke-width="1.1" opacity="0.8"/><path d="M146,5.7 A4.3,4.3 0 0 0 146,14.3" stroke="#7aa0dd" stroke-width="1.1"/><path d="M146,5.7 A4.3,4.3 0 0 1 146,14.3" stroke="#6a9aa0" stroke-width="1" opacity="0.6"/><circle cx="146" cy="9.8" r="1.9" fill="#2050c0"/><rect x="146" y="10" width="1.3" height="7.6" fill="#18a018"/></g>
<g shape-rendering="geometricPrecision"><polygon points="165.5,8.5 180.5,8.5 175,17.6 172.5,17.6" fill="#f8e468" stroke="#c8960c" stroke-width="1"/><path d="M165.5,8 Q165,5.5 168.5,5.6 Q169.5,2 173,2.2 Q176.5,2.2 177.2,5.4 Q180.8,4.6 181,6.4 Q180,9.5 173,9.2 Q167,9.4 165.5,8 Z" fill="#5ab2e2" stroke="#2a80a8" stroke-width="1"/><circle cx="177.3" cy="13.6" r="4.1" fill="#e42a10" stroke="#b01800" stroke-width="0.8"/><rect x="176" y="12.2" width="3" height="3" fill="#fff"/></g>
<rect x="241" y="0" width="1" height="22" fill="#a0a0a0"/><rect x="242" y="0" width="1" height="22" fill="#ffffff"/>
<rect x="245" y="0" width="3" height="1" fill="#7a7a7a"/>
<rect x="245" y="2" width="3" height="1" fill="#7a7a7a"/>
<rect x="245" y="4" width="3" height="1" fill="#7a7a7a"/>
<rect x="245" y="6" width="3" height="1" fill="#7a7a7a"/>
<rect x="245" y="8" width="3" height="1" fill="#7a7a7a"/>
<rect x="245" y="10" width="3" height="1" fill="#7a7a7a"/>
<rect x="245" y="12" width="3" height="1" fill="#7a7a7a"/>
<rect x="245" y="14" width="3" height="1" fill="#7a7a7a"/>
<rect x="245" y="16" width="3" height="1" fill="#7a7a7a"/>
<rect x="245" y="18" width="3" height="1" fill="#7a7a7a"/>
<g fill="#555"><rect x="259" y="4" width="1" height="14"/><rect x="257" y="15" width="14" height="1"/><polygon points="257,6 262,6 259.5,3.5" shape-rendering="geometricPrecision"/><polygon points="269,13 269,18 271.5,15.5" shape-rendering="geometricPrecision"/></g>
<g fill="#109010"><rect x="265" y="5" width="1" height="9"/><rect x="263" y="12" width="2" height="1"/><rect x="266" y="6" width="2" height="1"/></g>
<rect x="279" y="0" width="1" height="20" fill="#a0a0a0"/><rect x="280" y="0" width="1" height="20" fill="#ffffff"/>
<rect x="281" y="0" width="24" height="20" fill="#f7f7f7"/>
<g fill="#555"><rect x="287" y="4" width="1" height="14"/><rect x="285" y="15" width="14" height="1"/><polygon points="285,6 290,6 287.5,3.5" shape-rendering="geometricPrecision"/><polygon points="297,13 297,18 299.5,15.5" shape-rendering="geometricPrecision"/></g>
<rect x="293" y="2" width="1" height="12" fill="#009a00"/><rect x="291" y="4" width="5" height="8" fill="#40e870" stroke="#009a00" stroke-width="1" transform="translate(0.5,0.5)" />
<g fill="#555"><rect x="315" y="4" width="1" height="14"/><rect x="313" y="15" width="14" height="1"/><polygon points="313,6 318,6 315.5,3.5" shape-rendering="geometricPrecision"/><polygon points="325,13 325,18 327.5,15.5" shape-rendering="geometricPrecision"/></g>
<path d="M314,12.5 Q317,8 320,7.3 Q322,7.5 325.5,11.3" fill="none" stroke="#169a16" stroke-width="1.3" shape-rendering="geometricPrecision"/>
<rect x="336" y="0" width="1" height="20" fill="#a0a0a0"/><rect x="337" y="0" width="1" height="20" fill="#ffffff"/>
<g shape-rendering="geometricPrecision"><line x1="354.5" y1="12.5" x2="359.5" y2="17" stroke="#a07810" stroke-width="3.4"/><line x1="354.5" y1="12.5" x2="359.5" y2="17" stroke="#f0d840" stroke-width="2"/><circle cx="351" cy="8" r="5.6" fill="#e2f5ff" stroke="#3a78c8" stroke-width="1.1"/><rect x="347.5" y="7" width="7" height="2" fill="#4a8ab0"/><rect x="350" y="4.5" width="2" height="7" fill="#4a8ab0"/></g>
<g shape-rendering="geometricPrecision"><line x1="382.5" y1="12.5" x2="387.5" y2="17" stroke="#a07810" stroke-width="3.4"/><line x1="382.5" y1="12.5" x2="387.5" y2="17" stroke="#f0d840" stroke-width="2"/><circle cx="379" cy="8" r="5.6" fill="#e2f5ff" stroke="#3a78c8" stroke-width="1.1"/><rect x="375.5" y="7" width="7" height="2" fill="#4a8ab0"/></g>
<g><rect x="401" y="2" width="8" height="8" rx="1" fill="#3aa012"/><rect x="409" y="2" width="8" height="8" rx="1" fill="#1a5ad8"/><rect x="401" y="10" width="8" height="8" rx="1" fill="#1a5ad8"/><rect x="409" y="10" width="8" height="8" rx="1" fill="#3aa012"/><rect x="402" y="5" width="6" height="3" fill="#fff"/><rect x="410" y="5" width="6" height="3" fill="#fff"/><rect x="402" y="13" width="6" height="3" fill="#fff"/><rect x="410" y="13" width="6" height="3" fill="#fff"/></g>
<rect x="426" y="0" width="1" height="20" fill="#a0a0a0"/><rect x="427" y="0" width="1" height="20" fill="#ffffff"/>
<rect x="431" y="0" width="1" height="20" fill="#a0a0a0"/><rect x="432" y="0" width="1" height="20" fill="#ffffff"/>
<rect x="433" y="0" width="24" height="20" fill="#f7f7f7"/>
<g fill="#555"><rect x="439" y="4" width="1" height="14"/><rect x="437" y="15" width="14" height="1"/><polygon points="437,6 442,6 439.5,3.5" shape-rendering="geometricPrecision"/><polygon points="449,13 449,18 451.5,15.5" shape-rendering="geometricPrecision"/></g>
<polygon points="444,6 444,13 448.5,9.5" fill="#50e060" stroke="#109a10" stroke-width="1" shape-rendering="geometricPrecision"/>
<rect x="459" y="0" width="1" height="20" fill="#a0a0a0"/><rect x="460" y="0" width="1" height="20" fill="#ffffff"/>
<rect x="461" y="0" width="24" height="20" fill="#f7f7f7"/>
<g fill="#555"><rect x="467" y="4" width="1" height="14"/><rect x="465" y="15" width="14" height="1"/><polygon points="465,6 470,6 467.5,3.5" shape-rendering="geometricPrecision"/><polygon points="477,13 477,18 479.5,15.5" shape-rendering="geometricPrecision"/></g>
<rect x="473" y="4" width="1" height="10" fill="#1a6a9a"/><polygon points="474.5,9.5 478,7 477,9 480,9 480,10 477,10 478,12" fill="#e85010" shape-rendering="geometricPrecision"/>
<rect x="488" y="0" width="1" height="20" fill="#a0a0a0"/><rect x="489" y="0" width="1" height="20" fill="#ffffff"/>
<path d="M498.5,2.5 h8 l3,3 v10 h-11 z" fill="#fff" stroke="#666" stroke-width="1"/>
<path d="M506.5,2.5 v3 h3" fill="#ddd" stroke="#666" stroke-width="1"/>
<path d="M502.5,13 v-7 q0,-1.5 2,-1.5 M501,8.5 h3" fill="none" stroke="#333" stroke-width="1" shape-rendering="geometricPrecision"/>
<path d="M506.5,8.5 h3 v4 h4 v3 h-4 v4 h-3 v-4 h-4 v-3 h4 z" fill="#22e040" stroke="#008a00" stroke-width="1" shape-rendering="crispEdges"/>
<rect x="503" y="13" width="4" height="1" fill="#7af08a"/><rect x="507" y="9" width="1" height="4" fill="#7af08a"/>
<polygon points="520,9 526,9 523,12" fill="#000" shape-rendering="geometricPrecision"/>
<defs><linearGradient id="gclk" x1="0" y1="0" x2="1" y2="1"><stop offset="0" stop-color="#40a8ff"/><stop offset="1" stop-color="#0040a0"/></linearGradient></defs>
<g shape-rendering="geometricPrecision"><circle cx="544" cy="10" r="6.7" fill="#f6f6f6" stroke="url(#gclk)" stroke-width="2.6"/><path d="M543,6.5 L544,10 L547,10.5" fill="none" stroke="#111" stroke-width="1.3"/><g fill="#999"><rect x="541" y="7" width="1" height="1"/><rect x="546.5" y="7" width="1" height="1"/><rect x="540" y="10" width="1" height="1"/><rect x="541" y="12.5" width="1" height="1"/><rect x="546" y="12.5" width="1" height="1"/></g><rect x="543" y="12.5" width="2" height="1" fill="#5a9ae0"/></g>
<polygon points="559,9 565,9 562,12" fill="#000" shape-rendering="geometricPrecision"/>
<g><rect x="575" y="3" width="16" height="14" rx="1" fill="#2f74c0"/><rect x="576" y="4" width="14" height="2" fill="#7ab4ec"/><rect x="576" y="6" width="14" height="5" fill="#fff"/><rect x="576" y="12" width="14" height="4" fill="#fff"/><g fill="#a02808"><rect x="577" y="9" width="3" height="1"/><rect x="580" y="8" width="2" height="1"/><rect x="582" y="7" width="2" height="1"/><rect x="584" y="8" width="3" height="1"/><rect x="587" y="7" width="2" height="1"/></g><g fill="#109010"><rect x="578" y="14" width="2" height="1"/><rect x="580" y="13" width="2" height="1"/><rect x="582" y="14" width="2" height="1"/><rect x="584" y="13" width="1" height="1"/><rect x="585" y="12" width="2" height="1"/><rect x="587" y="13" width="1" height="1"/><rect x="588" y="14" width="1" height="1"/></g></g>
<polygon points="598,9 604,9 601,12" fill="#000" shape-rendering="geometricPrecision"/>
<rect x="609" y="0" width="1" height="22" fill="#a0a0a0"/><rect x="610" y="0" width="1" height="22" fill="#ffffff"/>
<rect x="613" y="0" width="3" height="1" fill="#7a7a7a"/>
<rect x="613" y="2" width="3" height="1" fill="#7a7a7a"/>
<rect x="613" y="4" width="3" height="1" fill="#7a7a7a"/>
<rect x="613" y="6" width="3" height="1" fill="#7a7a7a"/>
<rect x="613" y="8" width="3" height="1" fill="#7a7a7a"/>
<rect x="613" y="10" width="3" height="1" fill="#7a7a7a"/>
<rect x="613" y="12" width="3" height="1" fill="#7a7a7a"/>
<rect x="613" y="14" width="3" height="1" fill="#7a7a7a"/>
<rect x="613" y="16" width="3" height="1" fill="#7a7a7a"/>
<rect x="613" y="18" width="3" height="1" fill="#7a7a7a"/>
<rect x="619" y="0" width="1" height="20" fill="#a0a0a0"/><rect x="620" y="0" width="1" height="20" fill="#ffffff"/>
<rect x="621" y="0" width="24" height="20" fill="#f7f7f7"/>
<polygon points="627,3 627,14 629.6,11.6 632,17 634,16.2 631.5,11 635,10.6" fill="#555" shape-rendering="geometricPrecision"/>
<g fill="#444"><rect x="652" y="10" width="16" height="1"/><rect x="659" y="3" width="1" height="15"/></g>
<rect x="676" y="0" width="1" height="20" fill="#a0a0a0"/><rect x="677" y="0" width="1" height="20" fill="#ffffff"/>
<rect x="693" y="4" width="1" height="13" fill="#444"/>
<rect x="716" y="10" width="13" height="1" fill="#444"/>
<line x1="744" y1="17" x2="756" y2="5" stroke="#444" stroke-width="1" shape-rendering="geometricPrecision"/>
<g shape-rendering="geometricPrecision" stroke="#444" fill="none"><line x1="769.5" y1="11.5" x2="777.5" y2="4" stroke-width="1"/><line x1="774.5" y1="17" x2="783.5" y2="8.5" stroke-width="1"/><path d="M772,16 l1,-5 l1,-1 M775,14 l0.5,-5 l1,-1 M778,12 l0.5,-5 l1,-1 M781,9 l0.5,-6" stroke-width="1.2"/></g>
<path d="M785,14.5 h-3.5 v4.5 h3.5 M781.5,16.7 h3" fill="none" stroke="#444" stroke-width="1.3" shape-rendering="geometricPrecision"/>
<rect x="799" y="3" width="1" height="1" fill="#444"/>
<rect x="801" y="3" width="1" height="1" fill="#444"/>
<rect x="803" y="3" width="1" height="1" fill="#444"/>
<rect x="805" y="3" width="1" height="1" fill="#444"/>
<rect x="807" y="3" width="1" height="1" fill="#444"/>
<rect x="809" y="3" width="1" height="1" fill="#444"/>
<rect x="811" y="3" width="1" height="1" fill="#444"/>
<rect x="799" y="6" width="1" height="1" fill="#444"/>
<rect x="801" y="6" width="1" height="1" fill="#444"/>
<rect x="803" y="6" width="1" height="1" fill="#444"/>
<rect x="805" y="6" width="1" height="1" fill="#444"/>
<rect x="807" y="6" width="1" height="1" fill="#444"/>
<rect x="809" y="6" width="1" height="1" fill="#444"/>
<rect x="811" y="6" width="1" height="1" fill="#444"/>
<rect x="799" y="10" width="1" height="1" fill="#444"/>
<rect x="801" y="10" width="1" height="1" fill="#444"/>
<rect x="803" y="10" width="1" height="1" fill="#444"/>
<rect x="805" y="10" width="1" height="1" fill="#444"/>
<rect x="807" y="10" width="1" height="1" fill="#444"/>
<rect x="809" y="10" width="1" height="1" fill="#444"/>
<rect x="811" y="10" width="1" height="1" fill="#444"/>
<rect x="799" y="14" width="1" height="1" fill="#444"/>
<rect x="801" y="14" width="1" height="1" fill="#444"/>
<rect x="803" y="14" width="1" height="1" fill="#444"/>
<rect x="805" y="14" width="1" height="1" fill="#444"/>
<rect x="807" y="14" width="1" height="1" fill="#444"/>
<path d="M813,14.5 h-3.5 v4.5 M809.5,16.7 h3" fill="none" stroke="#444" stroke-width="1.3" shape-rendering="geometricPrecision"/>
<path d="M830.5,15 L833.5,6 L836.5,15 M831.5,12 h4" fill="none" stroke="#555" stroke-width="1.3" shape-rendering="geometricPrecision"/>
<rect x="856" y="4" width="1" height="1" fill="#444"/><rect x="856" y="16" width="1" height="1" fill="#444"/>
<rect x="858" y="4" width="1" height="1" fill="#444"/><rect x="858" y="16" width="1" height="1" fill="#444"/>
<rect x="860" y="4" width="1" height="1" fill="#444"/><rect x="860" y="16" width="1" height="1" fill="#444"/>
<rect x="862" y="4" width="1" height="1" fill="#444"/><rect x="862" y="16" width="1" height="1" fill="#444"/>
<rect x="864" y="4" width="1" height="1" fill="#444"/><rect x="864" y="16" width="1" height="1" fill="#444"/>
<rect x="866" y="4" width="1" height="1" fill="#444"/><rect x="866" y="16" width="1" height="1" fill="#444"/>
<rect x="856" y="4" width="1" height="1" fill="#444"/><rect x="867" y="4" width="1" height="1" fill="#444"/>
<rect x="856" y="6" width="1" height="1" fill="#444"/><rect x="867" y="6" width="1" height="1" fill="#444"/>
<rect x="856" y="8" width="1" height="1" fill="#444"/><rect x="867" y="8" width="1" height="1" fill="#444"/>
<rect x="856" y="10" width="1" height="1" fill="#444"/><rect x="867" y="10" width="1" height="1" fill="#444"/>
<rect x="856" y="12" width="1" height="1" fill="#444"/><rect x="867" y="12" width="1" height="1" fill="#444"/>
<rect x="856" y="14" width="1" height="1" fill="#444"/><rect x="867" y="14" width="1" height="1" fill="#444"/>
<rect x="858" y="7" width="8" height="1" fill="#555"/><rect x="861" y="7" width="2" height="8" fill="#555"/><rect x="855" y="3" width="2" height="1" fill="#444"/>
<g fill="#555" shape-rendering="geometricPrecision"><polygon points="883,7.6 886.5,4 890,7.6"/><polygon points="890,13.2 897,13.2 893.5,17"/><path d="M885,11.5 l2.5,2 l4.5,-5" fill="none" stroke="#555" stroke-width="1.2"/></g>
<polygon points="904,9 910,9 907,12" fill="#000" shape-rendering="geometricPrecision"/>
<rect x="915" y="0" width="1" height="22" fill="#a0a0a0"/><rect x="916" y="0" width="1" height="22" fill="#ffffff"/>
<rect x="919" y="0" width="3" height="1" fill="#7a7a7a"/>
<rect x="919" y="2" width="3" height="1" fill="#7a7a7a"/>
<rect x="919" y="4" width="3" height="1" fill="#7a7a7a"/>
<rect x="919" y="6" width="3" height="1" fill="#7a7a7a"/>
<rect x="919" y="8" width="3" height="1" fill="#7a7a7a"/>
<rect x="919" y="10" width="3" height="1" fill="#7a7a7a"/>
<rect x="919" y="12" width="3" height="1" fill="#7a7a7a"/>
<rect x="919" y="14" width="3" height="1" fill="#7a7a7a"/>
<rect x="919" y="16" width="3" height="1" fill="#7a7a7a"/>
<rect x="919" y="18" width="3" height="1" fill="#7a7a7a"/>
<text transform="translate(931,13.6) scale(0.9,1)" font-size="10" fill="#333" stroke="#333" stroke-width="0.1">M1</text>
<text transform="translate(959,13.6) scale(0.9,1)" font-size="10" fill="#333" stroke="#333" stroke-width="0.1">M5</text>
<text transform="translate(984,13.6) scale(0.9,1)" font-size="10" fill="#333" stroke="#333" stroke-width="0.1">M15</text>
<text transform="translate(1012,13.6) scale(0.9,1)" font-size="10" fill="#333" stroke="#333" stroke-width="0.1">M30</text>
<text transform="translate(1044,13.6) scale(0.9,1)" font-size="10" fill="#333" stroke="#333" stroke-width="0.1">H1</text>
<text transform="translate(1071,13.6) scale(0.9,1)" font-size="10" fill="#333" stroke="#333" stroke-width="0.1">H4</text>
<text transform="translate(1100,13.6) scale(0.9,1)" font-size="10" fill="#333" stroke="#333" stroke-width="0.1">D1</text>
<text transform="translate(1127,13.6) scale(0.9,1)" font-size="10" fill="#333" stroke="#333" stroke-width="0.1">W1</text>
<text transform="translate(1154,13.6) scale(0.9,1)" font-size="10" fill="#333" stroke="#333" stroke-width="0.1">MN</text>
<rect x="1065" y="0" width="1" height="20" fill="#a0a0a0"/><rect x="1066" y="0" width="1" height="20" fill="#ffffff"/>
<rect x="1067" y="0" width="24" height="20" fill="#f7f7f7"/>
<text transform="translate(1071,13.6) scale(0.9,1)" font-size="10" fill="#333" stroke="#333" stroke-width="0.1">H4</text>
<rect x="1176" y="0" width="1" height="22" fill="#a0a0a0"/><rect x="1177" y="0" width="1" height="22" fill="#ffffff"/>
<g shape-rendering="geometricPrecision"><line x1="1639.5" y1="15" x2="1644" y2="10.5" stroke="#2058c8" stroke-width="2.2"/><circle cx="1646.5" cy="7.3" r="3.7" fill="#fff" stroke="#2a62d8" stroke-width="1.3"/></g>
<g shape-rendering="geometricPrecision"><ellipse cx="1670" cy="12" rx="6" ry="4.5" fill="#dde0ea" stroke="#aaa" stroke-width="1"/><polygon points="1666,15.5 1667,18 1669,16" fill="#999"/><defs><linearGradient id="gbadge" x1="0" y1="0" x2="0" y2="1"><stop offset="0" stop-color="#ea5c3c"/><stop offset="1" stop-color="#d82008"/></linearGradient></defs><circle cx="1677.4" cy="7.2" r="8.2" fill="url(#gbadge)"/><path d="M1675.6,4.6 l2.4,-1.4 v8.4 M1675.3,11.4 h4.8" fill="none" stroke="#fff" stroke-width="1.2"/></g>
</svg>
</body></html>
